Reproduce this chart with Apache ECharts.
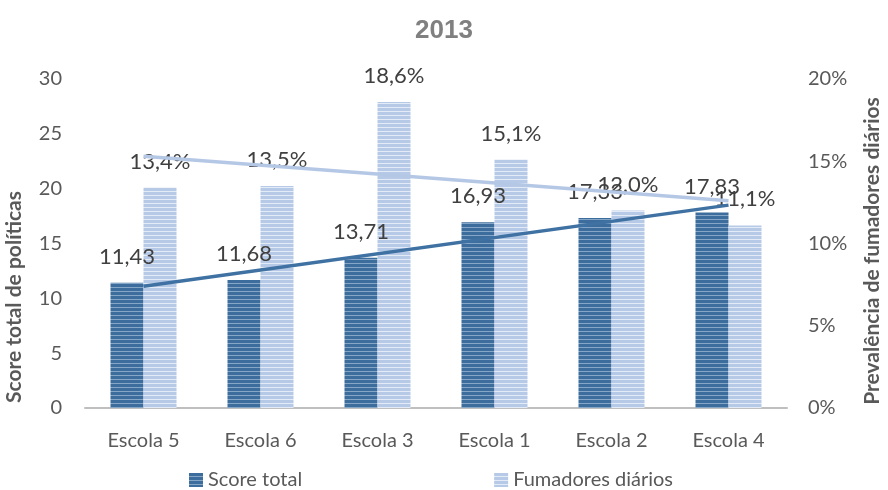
<!DOCTYPE html>
<html>
<head>
<meta charset="utf-8">
<script src="https://cdn.jsdelivr.net/npm/echarts@6/dist/echarts.min.js"></script>
<style>html,body{margin:0;padding:0;background:#fff;}#c{width:888px;height:490px;}</style>
</head>
<body>
<div id="c"></div>
<script>
const categories = ['Escola 5', 'Escola 6', 'Escola 3', 'Escola 1', 'Escola 2', 'Escola 4'];
const scoreTotal = [11.43, 11.68, 13.71, 16.93, 17.33, 17.83];
const fumadores = [13.4, 13.5, 18.6, 15.1, 12.0, 11.1];
const scoreTrend = [11.1, null, null, null, null, 18.5];
const fumadoresTrend = [15.3, null, null, null, null, 12.6];
const leftTicks = [0, 5, 10, 15, 20, 25, 30];
const rightTicks = ['0%', '5%', '10%', '15%', '20%'];

function stripe(base, line) {
  const c = document.createElement('canvas');
  c.width = 4; c.height = 4;
  const g = c.getContext('2d');
  g.fillStyle = base; g.fillRect(0, 0, 4, 4);
  g.fillStyle = line; g.fillRect(0, 3, 4, 1);
  return { image: c, repeat: 'repeat' };
}
const darkPat = stripe('#3d6d9c', '#86a6c8');
const lightPat = stripe('#b6c9e6', '#e3ebf6');

const font = 'Lato, "Open Sans", sans-serif';
const chart = echarts.init(document.getElementById('c'));
chart.setOption({
  animation: false,
  title: {
    text: '2013', left: 'center', top: 13,
    textStyle: { fontFamily: '"Liberation Sans", Arial, sans-serif', fontWeight: 'bold', fontSize: 26, color: '#808080' }
  },
  grid: { left: 85, right: 101, top: 79, bottom: 82, containLabel: false },
  legend: {
    data: ['Score total', 'Fumadores diários'],
    top: 465, left: 184, itemGap: 192, itemWidth: 14, itemHeight: 14,
    icon: 'rect',
    textStyle: { fontFamily: font, fontSize: 20, color: '#595959' }
  },
  xAxis: {
    type: 'category', data: categories,
    axisLine: { lineStyle: { color: '#bfbfbf', width: 2 } },
    axisTick: { show: false },
    axisLabel: { fontFamily: font, fontSize: 20, color: '#595959', margin: 23 }
  },
  yAxis: [
    { type: 'value', min: 0, max: 30, interval: 5, splitLine: { show: false },
      axisLine: { show: false }, axisTick: { show: false },
      axisLabel: { fontFamily: font, fontSize: 20, color: '#595959', margin: 23,
        formatter: v => String(leftTicks[leftTicks.indexOf(v)]) } },
    { type: 'value', min: 0, max: 20, interval: 5, splitLine: { show: false },
      axisLine: { show: false }, axisTick: { show: false },
      axisLabel: { fontFamily: font, fontSize: 20, color: '#595959', margin: 21,
        formatter: v => rightTicks[v / 5] } }
  ],
  graphic: [
    { type: 'text', x: 14, y: 297, rotation: Math.PI / 2,
      style: { text: 'Score total de políticas', font: 'bold 21px Lato, sans-serif', fill: '#595959', align: 'center', verticalAlign: 'middle' } },
    { type: 'text', x: 872, y: 251, rotation: Math.PI / 2,
      style: { text: 'Prevalência de fumadores diários', font: 'bold 21px Lato, sans-serif', fill: '#595959', align: 'center', verticalAlign: 'middle' } }
  ],
  series: [
    { name: 'Score total', type: 'bar', yAxisIndex: 0, data: scoreTotal,
      barWidth: 33, barGap: '0%',
      itemStyle: { color: darkPat },
      label: { show: true, position: 'top', distance: 15, fontFamily: font, fontSize: 22, color: '#404040',
        formatter: p => p.value.toFixed(2).replace('.', ',') } },
    { name: 'Fumadores diários', type: 'bar', yAxisIndex: 1, data: fumadores,
      barWidth: 33, barGap: '0%',
      itemStyle: { color: lightPat },
      label: { show: true, position: 'top', distance: 15, fontFamily: font, fontSize: 22, color: '#404040',
        formatter: p => p.value.toFixed(1).replace('.', ',') + '%' } },
    { name: 'trendScore', type: 'line', yAxisIndex: 0, data: scoreTrend, connectNulls: true,
      symbol: 'none', lineStyle: { color: '#3f72a3', width: 3.5 }, z: 5, silent: true },
    { name: 'trendFum', type: 'line', yAxisIndex: 1, data: fumadoresTrend, connectNulls: true,
      symbol: 'none', lineStyle: { color: '#b4c8e6', width: 3.5 }, z: 5, silent: true }
  ]
});
</script>
</body>
</html>
